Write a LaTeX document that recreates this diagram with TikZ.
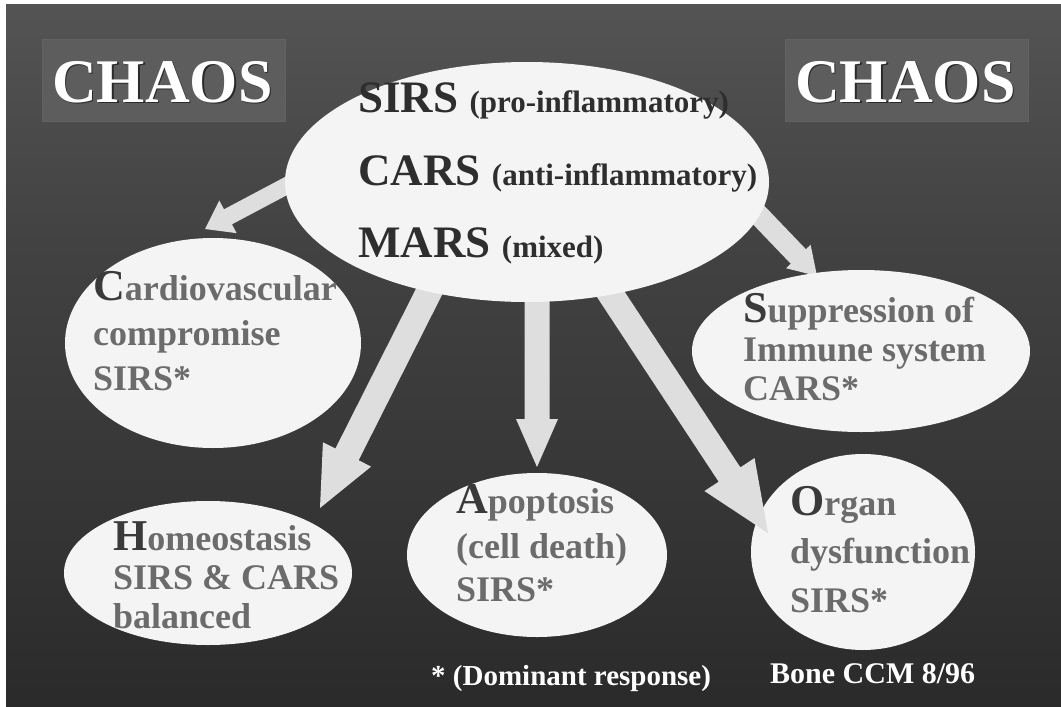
\documentclass[tikz,border=0pt]{standalone}
\usepackage{fontspec}
\setmainfont{Liberation Serif}
\usetikzlibrary{calc,shapes.geometric}

\definecolor{bg0}{HTML}{141414}
\definecolor{bg1}{HTML}{282828}
\definecolor{bg2}{HTML}{333333}
\definecolor{bg3}{HTML}{424242}
\definecolor{bg4}{HTML}{585858}
\definecolor{boxfill}{HTML}{5D5D5D}
\definecolor{boxline}{HTML}{626262}
\definecolor{bubblefill}{HTML}{F4F4F4}
\definecolor{arrowfill}{HTML}{DEDEDE}
\definecolor{coretext}{HTML}{2E2E2E}
\definecolor{labeltext}{HTML}{6B6B6B}
\definecolor{initialtext}{HTML}{3A3A3A}
\definecolor{shadowtext}{HTML}{2A2A2A}

\pgfdeclareverticalshading{slidebg}{100bp}{color(0bp)=(bg0); color(22bp)=(bg1); color(36bp)=(bg2); color(58bp)=(bg3); color(79bp)=(bg4); color(100bp)=(bg4)}

% block arrow: start, tip, half shaft width, half head width, head length
\newcommand\blockarrow[5]{%
  \coordinate (ba-base) at ($(#2)!#5!(#1)$);
  \fill[arrowfill]
    ($(#1)!#3!90:(#2)$) -- ($(ba-base)!#3!90:(#2)$) -- ($(ba-base)!#4!90:(#2)$)
    -- (#2)
    -- ($(ba-base)!#4!-90:(#2)$) -- ($(ba-base)!#3!-90:(#2)$) -- ($(#1)!#3!-90:(#2)$) -- cycle;
}

\newcommand\initial[1]{{\fontsize{44}{44}\selectfont\color{initialtext}#1}}

\begin{document}
\begin{tikzpicture}[x=1pt,y=-1pt,
  bubble/.style={ellipse, fill=bubblefill, inner sep=0pt},
  lbl/.style={anchor=base west, inner sep=0pt, text=labeltext,
    font=\bfseries\fontsize{36}{36}\selectfont},
  corelbl/.style={anchor=base west, inner sep=0pt, text=coretext,
    font=\bfseries\fontsize{45}{45}\selectfont},
  chaos/.style={anchor=base west, inner sep=0pt,
    font=\bfseries\fontsize{62}{62}\selectfont},
  note/.style={anchor=base west, inner sep=0pt,
    font=\bfseries\fontsize{#1}{#1}\selectfont},
  chaosbox/.style={fill=boxfill, draw=boxline, line width=0.8pt}
]
\useasboundingbox (0,0) rectangle (1061,707);
\fill[white] (0,0) rectangle (1061,707);
\shade[shading=slidebg] (6,4) rectangle (1061,706);

% title boxes
\fill[chaosbox] (42,39) rectangle (285,121);
\fill[chaosbox] (785,39) rectangle (1028,121);
\node[chaos, text=shadowtext] (chaosLs) at (53.5,103.5) {CHAOS};
\node[chaos, text=white] (chaosL) at (52,102) {CHAOS};
\node[chaos, text=shadowtext] (chaosRs) at (796.5,103.5) {CHAOS};
\node[chaos, text=white] (chaosR) at (795,102) {CHAOS};

% outcome bubbles
\node[bubble, minimum width=296pt, minimum height=210pt] (cardio) at (213,343) {};
\node[bubble, minimum width=288pt, minimum height=144pt] (homeo) at (208,573) {};
\node[bubble, minimum width=260pt, minimum height=164pt] (apop) at (537,555) {};
\node[bubble, minimum width=224pt, minimum height=196pt] (organ) at (863,552) {};

% arrow end points
\coordinate (sCardio) at (320,168);
\coordinate (tCardio) at (205,229);
\coordinate (sHomeo) at (440,270);
\coordinate (tHomeo) at (320,508);
\coordinate (sApop) at (537,280);
\coordinate (tApop) at (537,467);
\coordinate (sOrgan) at (600,278);
\coordinate (tOrgan) at (768,533);
\coordinate (sSuppr) at (727,182);
\coordinate (tSuppr) at (817,276);

\blockarrow{sCardio}{tCardio}{8.5pt}{18.5pt}{26pt}
\blockarrow{sHomeo}{tHomeo}{13pt}{27pt}{60pt}
\blockarrow{sApop}{tApop}{12.5pt}{21pt}{48pt}
\blockarrow{sOrgan}{tOrgan}{13pt}{30pt}{70pt}
\blockarrow{sSuppr}{tSuppr}{10.5pt}{17pt}{27pt}

\node[bubble, minimum width=338pt, minimum height=162pt] (suppr) at (861,351) {};

% central response bubble
\node[bubble, minimum width=484pt, minimum height=240pt] (core) at (527,182) {};
\node[corelbl] (sirs) at (358,112) {SIRS \fontsize{31}{31}\selectfont(pro-inflammatory)};
\node[corelbl] (cars) at (358,185) {CARS \fontsize{31}{31}\selectfont(anti-inflammatory)};
\node[corelbl] (mars) at (358,257) {MARS \fontsize{31}{31}\selectfont(mixed)};

% outcome texts
\node[lbl] (cardio1) at (93,300) {\initial{C}ardiovascular};
\node[lbl] (cardio2) at (93,345) {compromise};
\node[lbl] (cardio3) at (93,390) {SIRS*};

\node[lbl] (suppr1) at (743,322) {\initial{S}uppression of};
\node[lbl] (suppr2) at (743,361) {Immune system};
\node[lbl] (suppr3) at (743,400) {CARS*};

\node[lbl] (homeo1) at (113,550) {\initial{H}omeostasis};
\node[lbl] (homeo2) at (113,589) {SIRS \& CARS};
\node[lbl] (homeo3) at (113,628) {balanced};

\node[lbl] (apop1) at (456,513) {\initial{A}poptosis};
\node[lbl] (apop2) at (456,558) {(cell death)};
\node[lbl] (apop3) at (456,601) {SIRS*};

\node[lbl] (organ1) at (790,515) {\initial{O}rgan};
\node[lbl] (organ2) at (790,563) {dysfunction};
\node[lbl] (organ3) at (790,612) {SIRS*};

% footnotes
\node[note=29, text=shadowtext] (doms) at (432,686) {* (Dominant response)};
\node[note=29, text=white] (dom) at (431,685) {* (Dominant response)};
\node[note=30, text=shadowtext] (refs) at (771,684) {Bone CCM 8/96};
\node[note=30, text=white] (ref) at (770,683) {Bone CCM 8/96};
\end{tikzpicture}
\end{document}
